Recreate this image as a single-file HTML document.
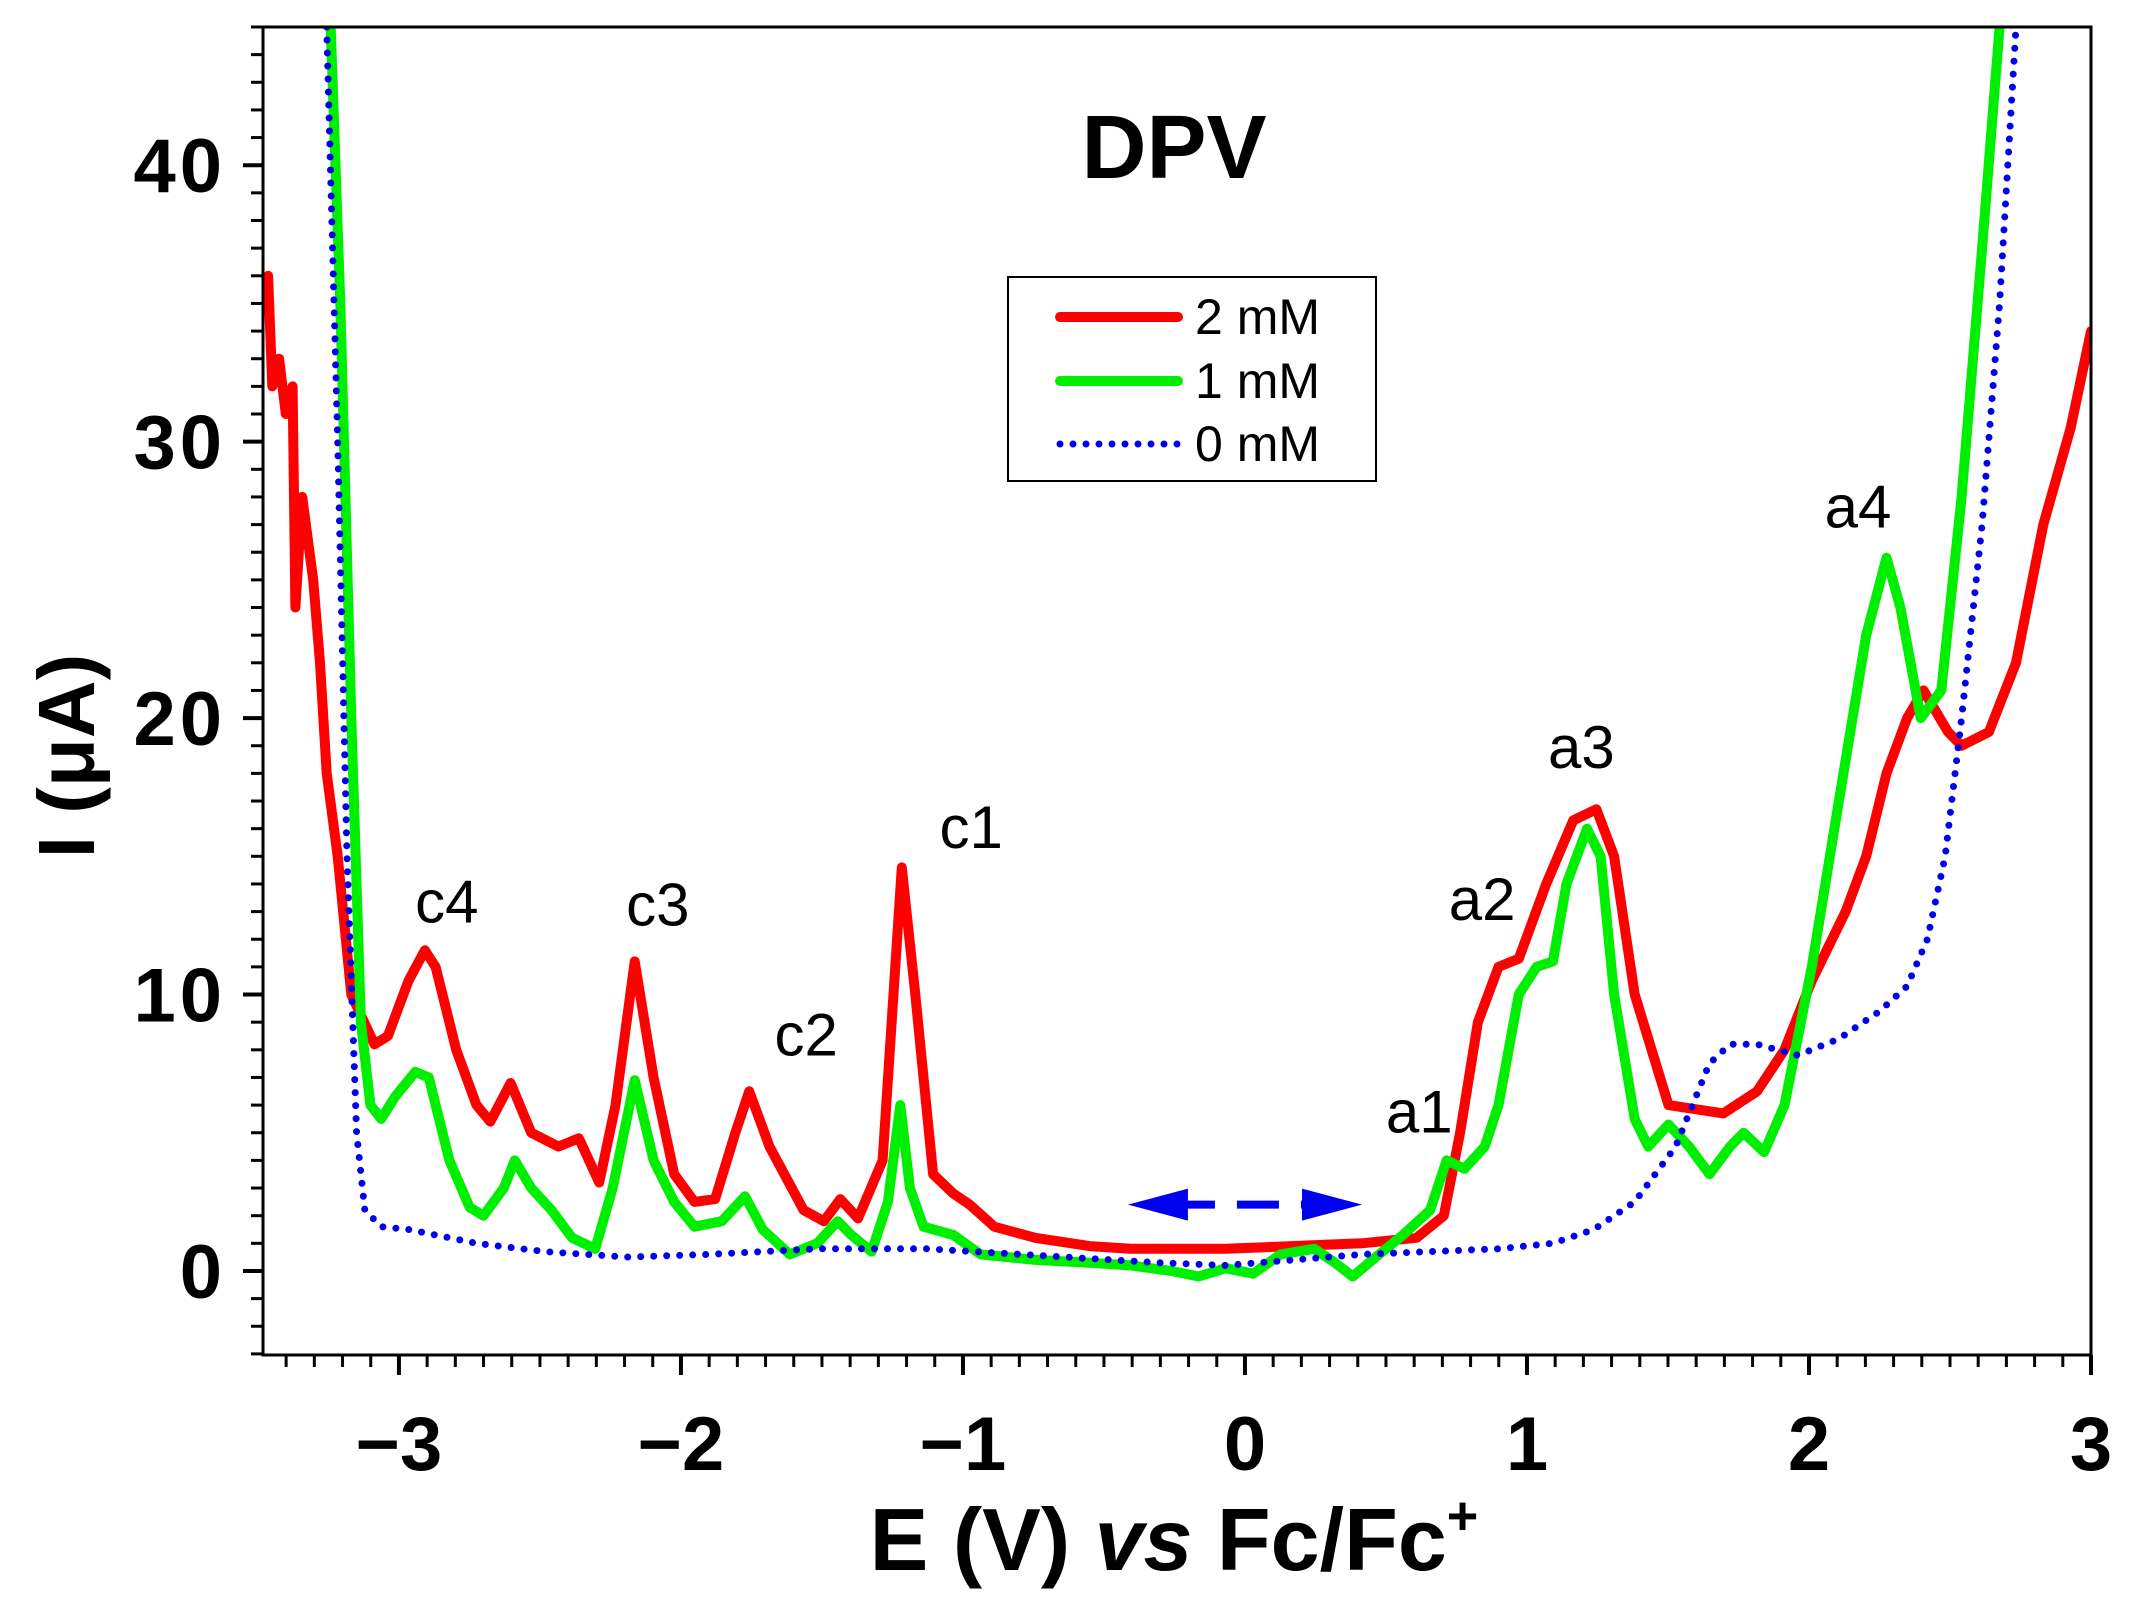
<!DOCTYPE html>
<html><head><meta charset="utf-8"><style>
html,body{margin:0;padding:0;background:#fff;}
svg{display:block;font-family:"Liberation Sans",Arial,sans-serif;}
</style></head><body>
<svg id="chart" width="2136" height="1613" viewBox="0 0 2136 1613" xmlns="http://www.w3.org/2000/svg">
<g id="plot"></g>
</svg>
<script>
const redX=[-3.464,-3.449,-3.425,-3.401,-3.377,-3.367,-3.343,-3.304,-3.280,-3.256,-3.217,-3.169,-3.087,-3.039,-2.966,-2.908,-2.870,-2.797,-2.725,-2.676,-2.604,-2.531,-2.435,-2.362,-2.290,-2.232,-2.164,-2.097,-2.024,-1.952,-1.879,-1.807,-1.758,-1.686,-1.565,-1.493,-1.435,-1.372,-1.285,-1.217,-1.169,-1.106,-1.034,-0.976,-0.889,-0.744,-0.551,-0.406,-0.068,0.415,0.609,0.705,0.763,0.826,0.899,0.971,1.068,1.164,1.246,1.309,1.382,1.502,1.696,1.816,1.913,2.010,2.130,2.203,2.275,2.348,2.406,2.493,2.541,2.638,2.734,2.831,2.928,3.000];
const redY=[36,32,33,31,32,24,28,25,22,18,15,10,8.2,8.5,10.5,11.6,11,8,6,5.4,6.8,5,4.5,4.8,3.2,6,11.2,7,3.5,2.5,2.6,5,6.5,4.5,2.2,1.8,2.6,1.9,4,14.6,10,3.5,2.8,2.4,1.6,1.2,0.9,0.8,0.8,1.0,1.2,2,5,9,11,11.3,14,16.3,16.7,15,10,6,5.7,6.5,8,10.5,13,15,18,20,21,19.5,19,19.5,22,27,30.5,34];
const greenX=[-3.242,-3.208,-3.169,-3.135,-3.101,-3.063,-3.014,-2.942,-2.894,-2.821,-2.749,-2.700,-2.628,-2.589,-2.531,-2.459,-2.386,-2.304,-2.242,-2.164,-2.097,-2.024,-1.952,-1.855,-1.773,-1.710,-1.614,-1.517,-1.444,-1.396,-1.324,-1.266,-1.222,-1.188,-1.140,-1.034,-0.937,-0.744,-0.551,-0.406,-0.261,-0.164,-0.068,0.029,0.126,0.246,0.319,0.382,0.464,0.560,0.657,0.715,0.778,0.850,0.899,0.971,1.034,1.092,1.140,1.213,1.261,1.309,1.382,1.430,1.502,1.575,1.647,1.720,1.768,1.841,1.913,2.010,2.106,2.203,2.275,2.324,2.396,2.469,2.541,2.614,2.676];
const greenY=[45,35,20,9,6,5.5,6.3,7.2,7,4,2.3,2,3,4,3,2.2,1.2,0.8,3,6.9,4,2.5,1.6,1.8,2.7,1.5,0.6,1,1.8,1.3,0.7,2.5,6,3,1.6,1.3,0.6,0.4,0.3,0.2,0,-0.2,0.1,-0.1,0.6,0.8,0.3,-0.2,0.5,1.3,2.2,4,3.7,4.5,6,10,11,11.2,14,16,15,10,5.5,4.5,5.3,4.5,3.5,4.5,5,4.3,6,11,17,23,25.8,24,20,21,28,37,45];
const blueX=[-3.256,-3.217,-3.184,-3.150,-3.121,-3.063,-2.966,-2.725,-2.483,-2.193,-1.903,-1.517,-1.130,-0.792,-0.309,-0.068,0.174,0.415,0.657,0.899,1.092,1.237,1.382,1.527,1.647,1.720,1.816,1.961,2.106,2.251,2.348,2.420,2.483,2.541,2.614,2.676,2.734];
const blueY=[45,30,15,5,2.2,1.6,1.5,1.0,0.7,0.5,0.6,0.8,0.8,0.6,0.3,0.2,0.4,0.6,0.7,0.8,1.0,1.5,2.5,4.5,7.5,8.2,8.2,7.8,8.4,9.4,10.3,12,15,20,27,35,45];
const xTicks=[-3,-2,-1,0,1,2,3];
const xTickLabels=["\u22123","\u22122","\u22121","0","1","2","3"];
const yTicks=[0,10,20,30,40];
const yTickLabels=["0","10","20","30","40"];
const peakNames=["c4","c3","c2","c1","a1","a2","a3","a4"];
const peakX=[-2.83,-2.082,-1.556,-0.971,0.618,0.841,1.193,2.174];
const peakY=[12.6,12.5,7.8,15.3,5.0,12.7,18.2,26.9];
const seriesNames=["2 mM","1 mM","0 mM"];

const L=263,R=2091,T=27,B=1355,XMIN=-3.482,XMAX=3,YMIN=-3.04,YMAX=45;
const sx=v=>L+(v-XMIN)/(XMAX-XMIN)*(R-L);
const sy=v=>B-(v-YMIN)/(YMAX-YMIN)*(B-T);
const NS="http://www.w3.org/2000/svg";
const svg=document.getElementById('chart');
function mk(tag,attrs,parent){const e=document.createElementNS(NS,tag);for(const k in attrs)e.setAttribute(k,attrs[k]);(parent||svg).appendChild(e);return e;}

const defs=mk('defs',{});
const cp=mk('clipPath',{id:'clip'},defs);
mk('rect',{x:L,y:T,width:R-L,height:B-T},cp);

function line(xs,ys,color,w,dash,name){
  const d=xs.map((x,i)=>(i?'L':'M')+sx(x).toFixed(1)+','+sy(ys[i]).toFixed(1)).join(' ');
  const p=mk('path',{d:d,fill:'none',stroke:color,'stroke-width':w,'stroke-linejoin':'round','stroke-linecap':'round','clip-path':'url(#clip)'});
  if(dash)p.setAttribute('stroke-dasharray',dash);
  
  
}
line(redX,redY,'#ff0000',10,null,'series-2mm');
line(greenX,greenY,'#00ee00',10,null,'series-1mm');
line(blueX,blueY,'#0000ee',7,'0 13','series-0mm');

const fr=mk('rect',{x:L,y:T,width:R-L,height:B-T,fill:'none',stroke:'#000','stroke-width':3});



for(let i=-34;i<=30;i++){const v=i/10;const X=sx(v);const major=(i%10===0);
  mk('line',{x1:X,y1:B,x2:X,y2:B+(major?20:12),stroke:'#000','stroke-width':major?4:3});}
xTicks.forEach((v,i)=>{const t=mk('text',{x:sx(v),y:1470,'text-anchor':'middle','font-size':76,'font-weight':'bold'});t.textContent=xTickLabels[i];
  
  });
for(let v=-3;v<=45;v++){const Y=sy(v);const major=(v%10===0);
  mk('line',{x1:L,y1:Y,x2:L-(major?20:12),y2:Y,stroke:'#000','stroke-width':major?4:3});}
yTicks.forEach((v,i)=>{const t=mk('text',{x:226,y:sy(v)+27,'text-anchor':'end','font-size':76,'font-weight':'bold','letter-spacing':4});t.textContent=yTickLabels[i];
  
  });

const xt=mk('text',{x:1174,y:1570,'text-anchor':'middle','font-size':88,'font-weight':'bold'});
xt.innerHTML='E (V) <tspan font-style="italic">vs</tspan> Fc/Fc<tspan font-size="54" dy="-36">+</tspan>';


const yt=mk('text',{x:0,y:0,'text-anchor':'middle','font-size':80,'font-weight':'bold',transform:'translate(94,756) rotate(-90)'});
yt.textContent='I (\u03bcA)';



const tt=mk('text',{x:1174,y:178,'text-anchor':'middle','font-size':90,'font-weight':'bold'});
tt.textContent='DPV';



peakNames.forEach((n,i)=>{const t=mk('text',{x:sx(peakX[i]),y:sy(peakY[i]),'text-anchor':'middle','font-size':60});t.textContent=n;
  
  });

const ag=mk('g',{});


const ay=sy(2.4),ax1=sx(-0.415),ax2=sx(0.415);
mk('line',{x1:ax1+45,y1:ay,x2:ax2-45,y2:ay,stroke:'#0000ee','stroke-width':8,'stroke-dasharray':'42 22'},ag);
mk('polygon',{points:`${ax1},${ay} ${ax1+60},${ay-16} ${ax1+60},${ay+16}`,fill:'#0000ee'},ag);
mk('polygon',{points:`${ax2},${ay} ${ax2-60},${ay-16} ${ax2-60},${ay+16}`,fill:'#0000ee'},ag);

const lg=mk('g',{});


mk('rect',{x:1008,y:277,width:368,height:204,fill:'#fff',stroke:'#000','stroke-width':2},lg);
const lc=['#ff0000','#00ee00','#0000ee'],ly=[317,381,444];
seriesNames.forEach((n,i)=>{
  const l=mk('line',{x1:1060,y1:ly[i],x2:1178,y2:ly[i],stroke:lc[i],'stroke-width':i<2?10:7,'stroke-linecap':'round'},lg);
  if(i===2)l.setAttribute('stroke-dasharray','0 13');
  const t=mk('text',{x:1195,y:ly[i]+17,'font-size':50},lg);t.textContent=n;
  
  
});
</script>
</body></html>
